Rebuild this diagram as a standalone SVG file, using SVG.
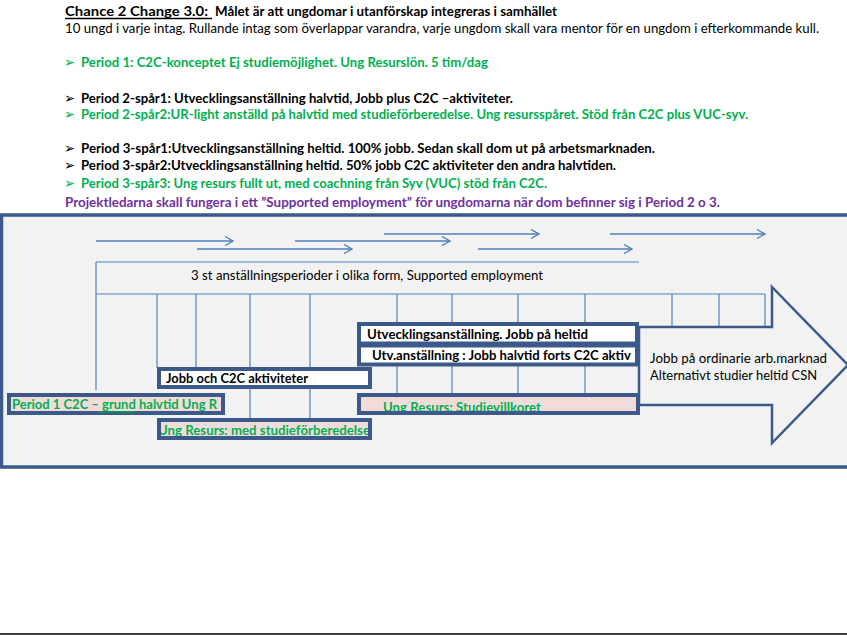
<svg xmlns="http://www.w3.org/2000/svg" width="847" height="635" viewBox="0 0 847 635">
<defs>
<marker id="chev" viewBox="0 0 10 10" refX="9" refY="5" markerWidth="10" markerHeight="10" markerUnits="userSpaceOnUse" orient="auto">
<polyline points="1,0.5 9,5 1,9.5" fill="none" stroke="#4f81bd" stroke-width="1.3"/>
</marker>
<style>
text{font-family:Lato,"Liberation Sans",sans-serif;font-size:14px;}
.b{font-weight:bold;}
.blk{fill:#000;}
.grn{fill:#00b050;}
.pur{fill:#7030a0;}
.bul{font-family:"DejaVu Sans",sans-serif;font-size:14px;}
.grid{stroke:#4f81bd;stroke-width:1.2;fill:none;}
.arr{stroke:#4f81bd;stroke-width:1.3;fill:none;marker-end:url(#chev);}
.box{stroke:#3b5a8a;stroke-width:4;}
.wbox{fill:#ffffff;}
.pbox{fill:#f2dcdb;}
.nofill{fill:none;}
</style>
</defs>
<rect x="0" y="0" width="847" height="635" fill="#ffffff"/>

<g id="header">
<text class="b blk" x="65" y="16" textLength="143" lengthAdjust="spacingAndGlyphs">Chance 2 Change 3.0:</text>
<line x1="65" y1="18.5" x2="212" y2="18.5" stroke="#000" stroke-width="1.4"/>
<text class="b blk" x="215" y="16" textLength="342" lengthAdjust="spacingAndGlyphs">Målet är att ungdomar i utanförskap integreras i samhället</text>
<text class="blk" x="65" y="33" style="font-size:13px" textLength="754" lengthAdjust="spacingAndGlyphs">10 ungd i varje intag. Rullande intag som överlappar varandra, varje ungdom skall vara mentor för en ungdom i efterkommande kull.</text>

<text class="bul grn" x="64" y="67" textLength="11" lengthAdjust="spacingAndGlyphs">➢</text>
<text class="b grn" x="81" y="67" textLength="407" lengthAdjust="spacingAndGlyphs">Period 1: C2C-konceptet Ej studiemöjlighet. Ung Resurslön. 5 tim/dag</text>

<text class="bul blk" x="64" y="103" textLength="11" lengthAdjust="spacingAndGlyphs">➢</text>
<text class="b blk" x="81" y="103" textLength="432" lengthAdjust="spacingAndGlyphs">Period 2-spår1: Utvecklingsanställning halvtid, Jobb plus C2C –aktiviteter.</text>
<text class="bul grn" x="64" y="119" textLength="11" lengthAdjust="spacingAndGlyphs">➢</text>
<text class="b grn" x="81" y="119" textLength="667" lengthAdjust="spacingAndGlyphs">Period 2-spår2:UR-light anställd på halvtid med studieförberedelse. Ung resursspåret. Stöd från C2C plus VUC-syv.</text>

<text class="bul blk" x="64" y="153" textLength="11" lengthAdjust="spacingAndGlyphs">➢</text>
<text class="b blk" x="81" y="153" textLength="574" lengthAdjust="spacingAndGlyphs">Period 3-spår1:Utvecklingsanställning heltid. 100% jobb. Sedan skall dom ut på arbetsmarknaden.</text>
<text class="bul blk" x="64" y="170" textLength="11" lengthAdjust="spacingAndGlyphs">➢</text>
<text class="b blk" x="81" y="170" textLength="535" lengthAdjust="spacingAndGlyphs">Period 3-spår2:Utvecklingsanställning heltid. 50% jobb C2C aktiviteter den andra halvtiden.</text>
<text class="bul grn" x="64" y="188" textLength="11" lengthAdjust="spacingAndGlyphs">➢</text>
<text class="b grn" x="81" y="188" textLength="466" lengthAdjust="spacingAndGlyphs">Period 3-spår3: Ung resurs fullt ut, med coachning från Syv (VUC) stöd från C2C.</text>
<text class="b pur" x="65" y="207" textLength="655" lengthAdjust="spacingAndGlyphs">Projektledarna skall fungera i ett ”Supported employment” för ungdomarna när dom befinner sig i Period 2 o 3.</text>
</g>

<g id="panel">
<rect x="1.5" y="215" width="850" height="252" fill="#f2f2f2" stroke="#3b5a8a" stroke-width="3.5"/>
</g>

<g id="timeline-grid">
<line class="grid" x1="96" y1="262" x2="639" y2="262"/>
<line class="grid" x1="96" y1="294" x2="765" y2="294"/>
<line class="grid" x1="96" y1="262" x2="96" y2="390"/>
<line class="grid" x1="157" y1="294" x2="157" y2="368"/>
<line class="grid" x1="196" y1="294" x2="196" y2="368"/>
<line class="grid" x1="250" y1="294" x2="250" y2="418"/>
<line class="grid" x1="310" y1="294" x2="310" y2="418"/>
<line class="grid" x1="397" y1="294" x2="397" y2="394"/>
<line class="grid" x1="452" y1="294" x2="452" y2="394"/>
<line class="grid" x1="518" y1="294" x2="518" y2="394"/>
<line class="grid" x1="585" y1="294" x2="585" y2="394"/>
<line class="grid" x1="672" y1="294" x2="672" y2="328"/>
<line class="grid" x1="719" y1="294" x2="719" y2="328"/>
<line class="grid" x1="765" y1="294" x2="765" y2="328"/>
<text class="blk" x="191" y="280" textLength="352" lengthAdjust="spacingAndGlyphs">3 st anställningsperioder i olika form, Supported employment</text>
</g>

<g id="connectors">
<line class="arr" x1="96" y1="241" x2="233" y2="241"/>
<line class="arr" x1="197" y1="249" x2="352" y2="249"/>
<line class="arr" x1="295" y1="241" x2="450" y2="241"/>
<line class="arr" x1="384" y1="234" x2="539" y2="234"/>
<line class="arr" x1="478" y1="249" x2="632" y2="249"/>
<line class="arr" x1="610" y1="234" x2="765" y2="234"/>
</g>

<g id="big-arrow">
<polygon points="639,327 772,327 772,287 848,365 772,443 772,405 639,405" fill="#f2f2f2" stroke="#3b5a8a" stroke-width="2.5"/>
<text class="blk" x="650" y="363" textLength="177" lengthAdjust="spacingAndGlyphs">Jobb på ordinarie arb.marknad</text>
<text class="blk" x="650" y="380" textLength="167" lengthAdjust="spacingAndGlyphs">Alternativt studier heltid CSN</text>
</g>

<g id="utv-heltid">
<rect class="box wbox" x="359" y="324" width="278" height="19.5"/>
<text class="b blk" x="367" y="339" textLength="221" lengthAdjust="spacingAndGlyphs">Utvecklingsanställning. Jobb på heltid</text>
</g>

<g id="utv-halvtid">
<rect class="box wbox" x="359" y="345.5" width="278" height="19"/>
<text class="b blk" x="372" y="360" textLength="259" lengthAdjust="spacingAndGlyphs">Utv.anställning : Jobb halvtid forts C2C aktiv</text>
</g>

<g id="jobb-c2c">
<rect class="box wbox" x="159" y="369" width="211" height="18"/>
<text class="b blk" x="166" y="383" textLength="142" lengthAdjust="spacingAndGlyphs">Jobb och C2C aktiviteter</text>
</g>

<g id="period1">
<rect class="box pbox" x="9" y="395" width="214" height="18"/>
<text class="b grn" x="12" y="409" textLength="205" lengthAdjust="spacingAndGlyphs">Period 1 C2C – grund halvtid Ung R</text>
<line x1="99" y1="412" x2="135" y2="412" stroke="#00a040" stroke-width="1.6"/>
</g>

<g id="ung-resurs-studie">
<rect class="pbox" x="159" y="420" width="211" height="18"/>
<text class="b grn" x="158" y="435" textLength="212" lengthAdjust="spacingAndGlyphs">Ung Resurs: med studieförberedelse</text>
<rect class="box nofill" x="159" y="420" width="211" height="18"/>
</g>

<g id="ung-resurs-villkor">
<rect class="pbox" x="359" y="395" width="279" height="18"/>
<text class="b grn" x="383" y="412" textLength="158" lengthAdjust="spacingAndGlyphs">Ung Resurs: Studievillkoret</text>
<rect class="box nofill" x="359" y="395" width="279" height="18"/>
</g>

<line x1="0" y1="634" x2="847" y2="634" stroke="#000" stroke-width="1.5"/>
</svg>
